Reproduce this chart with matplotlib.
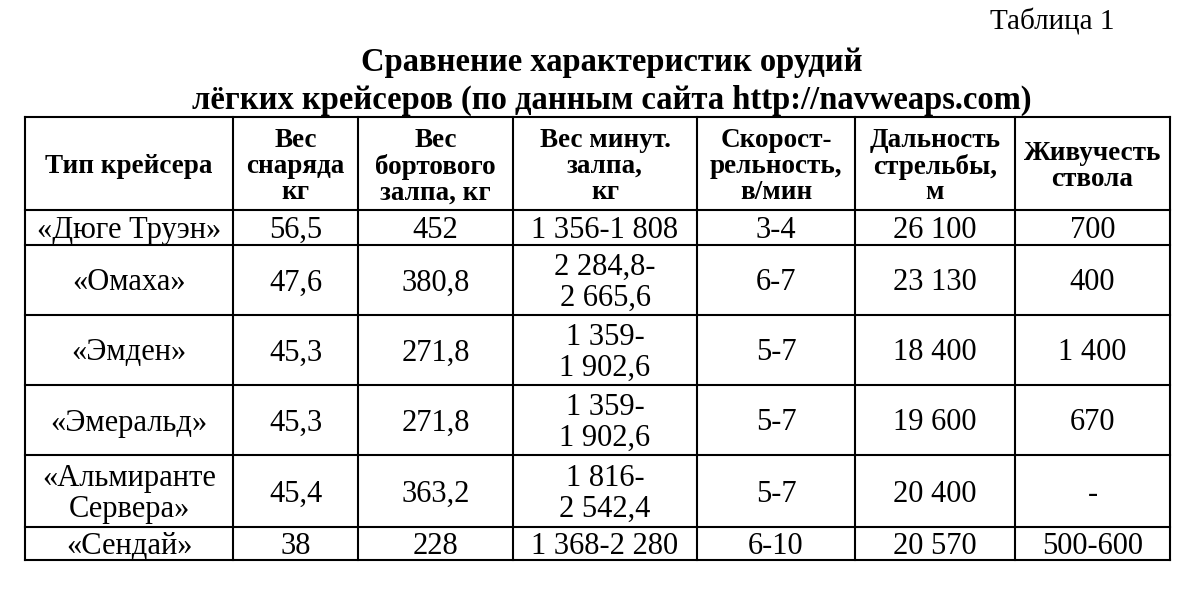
import matplotlib
matplotlib.use("Agg")
import matplotlib.pyplot as plt

table_label = "Таблица 1"
title_lines = ["Сравнение характеристик орудий",
               "лёгких крейсеров (по данным сайта http://navweaps.com)"]
headers = ["Тип крейсера", "Вес\nснаряда\nкг", "Вес\nбортового\nзалпа, кг",
           "Вес минут.\nзалпа,\nкг", "Скорост-\nрельность,\nв/мин",
           "Дальность\nстрельбы,\nм", "Живучесть\nствола"]
cruisers = ["«Дюге Труэн»", "«Омаха»", "«Эмден»", "«Эмеральд»",
            "«Альмиранте\nСервера»", "«Сендай»"]
shell_weight = ["56,5", "47,6", "45,3", "45,3", "45,4", "38"]
broadside = ["452", "380,8", "271,8", "271,8", "363,2", "228"]
minute_salvo = ["1 356-1 808", "2 284,8-\n2 665,6", "1 359-\n1 902,6",
                "1 359-\n1 902,6", "1 816-\n2 542,4", "1 368-2 280"]
rate = ["3-4", "6-7", "5-7", "5-7", "5-7", "6-10"]
range_m = ["26 100", "23 130", "18 400", "19 600", "20 400", "20 570"]
barrel_life = ["700", "400", "1 400", "670", "-", "500-600"]

col_x = [25, 233, 358, 513, 697, 855, 1015, 1170]
row_y = [117, 210, 245, 315, 385, 455, 527, 560]

fig = plt.figure(figsize=(12, 5.98), dpi=100)
ax = fig.add_axes([0, 0, 1, 1])
ax.set_xlim(0, 1200)
ax.set_ylim(598, 0)
ax.axis("off")
font = ["Liberation Serif", "DejaVu Serif"]

ax.text(1115, 22, table_label, ha="right", va="center", fontsize=21, family=font)
ax.text(612, 62, title_lines[0], ha="center", va="center", fontsize=23.5,
        fontweight="bold", family=font)
ax.text(612, 100, title_lines[1], ha="center", va="center", fontsize=23.5,
        fontweight="bold", family=font)

for x in col_x:
    ax.plot([x, x], [row_y[0], row_y[-1]], color="black", lw=1.5)
for y in row_y:
    ax.plot([col_x[0], col_x[-1]], [y, y], color="black", lw=1.5)

for i, h in enumerate(headers):
    cx = (col_x[i] + col_x[i + 1]) / 2
    ax.text(cx, (row_y[0] + row_y[1]) / 2 + 3, h, ha="center", va="center",
            fontsize=19.5, fontweight="bold", family=font, linespacing=1.05)

cols = [cruisers, shell_weight, broadside, minute_salvo, rate, range_m, barrel_life]
for r in range(len(cruisers)):
    cy = (row_y[r + 1] + row_y[r + 2]) / 2 + 3
    for c, col in enumerate(cols):
        cx = (col_x[c] + col_x[c + 1]) / 2
        ax.text(cx, cy, col[r], ha="center", va="center", fontsize=22,
                family=font, linespacing=1.1)

fig.savefig("out.png", dpi=100, facecolor="white")
